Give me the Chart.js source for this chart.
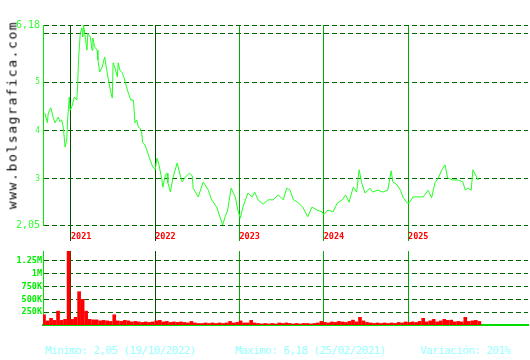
<!DOCTYPE html>
<html>
<head>
<meta charset="utf-8">
<script src="https://cdn.jsdelivr.net/npm/chart.js"></script>
<style>
  body { margin: 0; background: #fff; }
  #cont { position: relative; width: 530px; height: 360px; overflow: hidden; background: #fff; }
  canvas { position: absolute; left: 0; }
  #precio { top: 0; }
  #volumen { top: 245px; }
  #marca {
    position: absolute; left: 12px; top: 115px;
    transform: translate(-50%, -50%) rotate(-90deg);
    font-family: "DejaVu Sans Mono", monospace; font-size: 13px; letter-spacing: 1.6px;
    white-space: nowrap; color: #000;
  }
  .pie {
    position: absolute; top: 344px; line-height: 14px;
    font-family: "DejaVu Sans Mono", monospace; font-size: 11px; letter-spacing: -0.6px;
    color: #99ffff; white-space: nowrap;
  }
</style>
</head>
<body>
<div id="cont">
  <canvas id="precio" width="530" height="245"></canvas>
  <canvas id="volumen" width="530" height="90"></canvas>
  <div id="marca">www.bolsagrafica.com</div>
  <div class="pie" style="left:45px">Minimo: 2,05 (19/10/2022)</div>
  <div class="pie" style="left:235px">Maximo: 6,18 (25/02/2021)</div>
  <div class="pie" style="left:420px">Variación: 201%</div>
</div>
<script>
// fechas en años decimales
const fechas = [2020.69, 2020.72, 2020.73, 2020.76, 2020.79, 2020.81, 2020.85, 2020.87, 2020.89, 2020.91,
  2020.93, 2020.95, 2020.96, 2020.98, 2020.99, 2021.01, 2021.04, 2021.07, 2021.08, 2021.09,
  2021.11, 2021.13, 2021.14, 2021.15, 2021.19, 2021.20, 2021.23, 2021.25, 2021.26, 2021.28,
  2021.31, 2021.32, 2021.34, 2021.37, 2021.40, 2021.43, 2021.46, 2021.49, 2021.50, 2021.52,
  2021.55, 2021.56, 2021.58, 2021.61, 2021.63, 2021.66, 2021.68, 2021.71, 2021.74, 2021.75,
  2021.76, 2021.78, 2021.80, 2021.82, 2021.84, 2021.85, 2021.88, 2021.90, 2021.94, 2021.97,
  2022.00, 2022.02, 2022.04, 2022.08, 2022.09, 2022.12, 2022.14, 2022.15, 2022.18, 2022.21,
  2022.26, 2022.29, 2022.32, 2022.35, 2022.38, 2022.41, 2022.44, 2022.45, 2022.51, 2022.57,
  2022.63, 2022.67, 2022.73, 2022.80, 2022.83, 2022.86, 2022.90, 2022.95, 2022.98, 2023.01,
  2023.04, 2023.10, 2023.15, 2023.18, 2023.22, 2023.28, 2023.34, 2023.40, 2023.46, 2023.52,
  2023.56, 2023.60, 2023.64, 2023.69, 2023.75, 2023.81, 2023.86, 2023.92, 2023.98, 2024.00,
  2024.05, 2024.11, 2024.16, 2024.22, 2024.26, 2024.30, 2024.35, 2024.39, 2024.42, 2024.45,
  2024.49, 2024.55, 2024.58, 2024.64, 2024.70, 2024.76, 2024.80, 2024.82, 2024.87, 2024.91,
  2024.94, 2024.99, 2025.02, 2025.06, 2025.12, 2025.18, 2025.24, 2025.28, 2025.32, 2025.36,
  2025.40, 2025.44, 2025.47, 2025.53, 2025.59, 2025.65, 2025.68, 2025.71, 2025.75, 2025.77,
  2025.82, 2025.83];

const precios = [4.36, 4.16, 4.36, 4.47, 4.26, 4.16, 4.28, 4.18, 4.22, 4.05,
  3.66, 3.81, 4.22, 4.69, 4.42, 4.49, 4.69, 4.63, 4.98, 5.46,
  6.01, 6.12, 5.93, 6.18, 5.66, 6.01, 5.93, 5.66, 5.91, 5.73,
  5.66, 5.46, 5.21, 5.31, 5.52, 5.19, 4.90, 4.67, 5.40, 5.31,
  5.11, 5.40, 5.25, 5.19, 5.09, 4.90, 4.78, 4.63, 4.63, 4.42,
  4.16, 4.22, 4.07, 4.05, 3.95, 3.76, 3.70, 3.60, 3.39, 3.25,
  3.19, 3.43, 3.33, 2.98, 2.83, 3.08, 3.12, 2.92, 2.73, 3.02,
  3.33, 3.12, 2.94, 3.02, 3.08, 3.12, 3.06, 2.81, 2.63, 2.94,
  2.77, 2.57, 2.42, 2.05, 2.22, 2.36, 2.81, 2.63, 2.36, 2.19,
  2.42, 2.71, 2.63, 2.73, 2.57, 2.48, 2.57, 2.57, 2.67, 2.57,
  2.81, 2.77, 2.57, 2.52, 2.42, 2.22, 2.42, 2.36, 2.32, 2.26,
  2.36, 2.32, 2.50, 2.57, 2.67, 2.52, 2.83, 2.73, 3.19, 2.92,
  2.71, 2.81, 2.73, 2.77, 2.73, 2.77, 3.17, 2.94, 2.88, 2.77,
  2.63, 2.50, 2.52, 2.63, 2.63, 2.63, 2.77, 2.61, 2.92, 3.02,
  3.19, 3.29, 3.02, 2.98, 2.98, 2.94, 2.77, 2.81, 2.77, 3.19,
  3.02, 2.98];

// volumen por quincenas (miles de acciones), desde la 2a quincena de sep 2020
const volInicio = 2020.68;
const volumenMiles = [200, 80, 130, 90, 270, 90, 110, 1600, 110, 150,
  650, 500, 270, 110, 100, 100, 80, 90, 80, 70,
  200, 80, 70, 90, 80, 60, 70, 60, 50, 60,
  50, 60, 80, 90, 60, 70, 50, 60, 50, 60,
  50, 40, 70, 40, 30, 30, 40, 30, 40, 30,
  40, 30, 40, 70, 40, 50, 80, 40, 40, 90,
  40, 30, 20, 30, 20, 30, 20, 40, 30, 40,
  30, 20, 30, 20, 30, 30, 20, 30, 40, 70,
  50, 40, 60, 50, 70, 60, 50, 70, 95, 60,
  150, 80, 50, 40, 30, 40, 30, 40, 30, 40,
  30, 50, 40, 60, 50, 60, 50, 70, 130, 60,
  80, 110, 60, 80, 110, 90, 95, 60, 70, 60,
  150, 70, 80, 90, 70];

const anios = [2021, 2022, 2023, 2024, 2025];
const coloresAnio = ['#004d00', '#004d00', '#00aa00', '#00aa00', '#00aa00'];
const ticksPrecio = [2.05, 3, 4, 5, 6, 6.18];
const ticksVolumen = [250000, 500000, 750000, 1000000, 1250000];
const etiquetasVolumen = ['250K', '500K', '750K', '1M', '1.25M'];

const xMin = 2020.668;
const xMax = 2026.424;

const ctx1 = document.getElementById('precio');
const ctx2 = document.getElementById('volumen');

let graficoPrecio = new Chart(ctx1, {
  type: 'line',
  data: {
    datasets: [{
      data: fechas.map((f, i) => ({ x: f, y: precios[i] })),
      borderColor: '#22ff22',
      borderWidth: 1,
      pointRadius: 0,
      tension: 0,
    }],
  },
  options: {
    animation: false,
    responsive: false,
    events: [],
    layout: { padding: { top: 25, right: 2, left: 0, bottom: 0 } },
    plugins: { legend: { display: false }, tooltip: { enabled: false } },
    scales: {
      x: {
        type: 'linear',
        min: xMin,
        max: xMax,
        afterBuildTicks: (s) => { s.ticks = anios.map(v => ({ value: v })); },
        afterFit: (s) => { s.height = 20; },
        grid: { color: coloresAnio, lineWidth: 1, offset: false, drawTicks: true, tickLength: 16 },
        border: { display: false },
        ticks: {
          autoSkip: false,
          maxRotation: 0,
          align: 'start',
          padding: -9,
          color: '#ff0000',
          font: { family: 'DejaVu Sans Mono', size: 8.5, weight: 'bold' },
          callback: (v) => String(v),
        },
      },
      y: {
        min: 2.05,
        max: 6.18,
        afterBuildTicks: (s) => { s.ticks = ticksPrecio.map(v => ({ value: v })); },
        afterFit: (s) => { s.width = 43; },
        grid: { color: '#006600', drawTicks: false },
        border: { color: '#00ee00', width: 1, dash: [5, 3] },
        ticks: {
          padding: 3,
          color: '#33ff33',
          font: (c) => {
            const grande = c.tick && (c.tick.value === 2.05 || c.tick.value === 6.18);
            return { family: 'DejaVu Sans Mono', size: grande ? 10 : 8 };
          },
          callback: (v) => (v === 6 ? '' : String(v).replace('.', ',')),
        },
      },
    },
  },
});

let graficoVolumen = new Chart(ctx2, {
  type: 'bar',
  data: {
    datasets: [{
      data: volumenMiles.map((v, i) => ({ x: volInicio + i / 24, y: v * 1000 })),
      backgroundColor: '#ff0000',
      borderWidth: 0,
      barThickness: 3,
    }],
  },
  options: {
    animation: false,
    responsive: false,
    events: [],
    layout: { padding: { top: 5, right: 2, left: 0, bottom: 0 } },
    plugins: { legend: { display: false }, tooltip: { enabled: false } },
    scales: {
      x: {
        type: 'linear',
        offset: false,
        min: xMin,
        max: xMax,
        afterBuildTicks: (s) => { s.ticks = anios.map(v => ({ value: v })); },
        afterFit: (s) => { s.height = 10; },
        grid: { color: coloresAnio, lineWidth: 1, offset: false, drawTicks: false },
        border: { color: '#00dd00', width: 2 },
        ticks: { display: false },
      },
      y: {
        min: 0,
        max: 1442000,
        afterBuildTicks: (s) => { s.ticks = ticksVolumen.map(v => ({ value: v })); },
        afterFit: (s) => { s.width = 43; },
        grid: { color: '#006600', drawTicks: false },
        border: { color: '#00dd00', width: 1, dash: [5, 3] },
        ticks: {
          padding: 1,
          color: '#00ee00',
          font: { family: 'DejaVu Sans Mono', size: 8.5, weight: 'bold' },
          callback: (v, i) => etiquetasVolumen[i],
        },
      },
    },
  },
});
</script>
</body>
</html>
